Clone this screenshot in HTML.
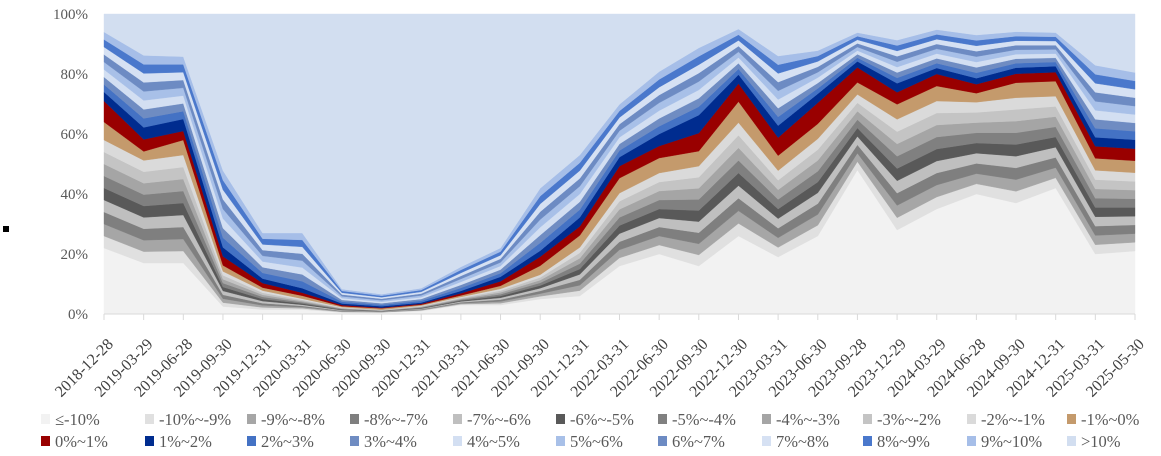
<!DOCTYPE html>
<html><head><meta charset="utf-8"><style>
html,body{margin:0;padding:0;background:#fff;}
svg{display:block;font-family:"Liberation Serif","Noto Serif CJK SC",serif;}
</style></head><body>
<svg id="chart" width="1161" height="456" xmlns="http://www.w3.org/2000/svg">
<rect x="3" y="226" width="6" height="6" fill="#000"/>
<g id="plot"></g><g id="axes"></g><g id="legend"></g>
</svg>
<script>
const categories=["2018-12-28","2019-03-29","2019-06-28","2019-09-30","2019-12-31","2020-03-31","2020-06-30","2020-09-30","2020-12-31","2021-03-31","2021-06-30","2021-09-30","2021-12-31","2022-03-31","2022-06-30","2022-09-30","2022-12-30","2023-03-31","2023-06-30","2023-09-28","2023-12-29","2024-03-29","2024-06-28","2024-09-30","2024-12-31","2025-03-31","2025-05-30"];
const seriesNames=["≤-10%","-10%~-9%","-9%~-8%","-8%~-7%","-7%~-6%","-6%~-5%","-5%~-4%","-4%~-3%","-3%~-2%","-2%~-1%","-1%~0%","0%~1%","1%~2%","2%~3%","3%~4%","4%~5%","5%~6%","6%~7%","7%~8%","8%~9%","9%~10%",">10%"];
const seriesColors=["#f2f2f2","#e0e0e0","#a6a6a6","#7f7f7f","#bfbfbf","#595959","#808080","#a5a5a5","#c4c4c4","#dadada","#c49a6c","#990000","#002c8f","#4472c4","#6f8cc2","#d3dff2","#a8c0e8","#6d8bc3","#d6e1f3","#4a78cc","#a6bee8","#d2def0"];
const sBase=[22,17,17,2.5,1.5,1.5,0.5,0.5,1,3,3,5,6,16,20,16,26,19,26,48,28,35,40,37,42,20,21];
const sGray1=[4,3.8,4,1.3,0.7,0.4,0.2,0.1,0.2,0.3,0.6,0.9,1.8,2.7,3,3.7,4.2,3.2,3.6,2.8,4.1,4,3.4,3.9,3.4,3.1,2.9];
const sGray2=[4,3.8,4,1.3,0.7,0.4,0.2,0.1,0.2,0.3,0.6,0.9,1.8,2.7,3,3.7,4.2,3.2,3.6,2.8,4.1,4,3.4,3.9,3.4,3.1,2.9];
const sGray3=[4,3.8,4,1.3,0.7,0.4,0.2,0.1,0.2,0.3,0.6,0.9,1.8,2.7,3,3.7,4.2,3.2,3.6,2.8,4.1,4,3.4,3.9,3.4,3.1,2.9];
const sGray4=[4,3.8,4,1.3,0.7,0.4,0.2,0.1,0.2,0.3,0.6,0.9,1.8,2.7,3,3.7,4.2,3.2,3.6,2.8,4.1,4,3.4,3.9,3.4,3.1,2.9];
const sGray5=[4,3.8,4,1.3,0.7,0.4,0.2,0.1,0.2,0.3,0.6,0.9,1.8,2.7,3,3.7,4.2,3.2,3.6,2.8,4.1,4,3.4,3.9,3.4,3.1,2.9];
const sGray6=[4,3.8,4,1.3,0.7,0.4,0.2,0.1,0.2,0.3,0.6,0.9,1.8,2.7,3,3.7,4.2,3.2,3.6,2.8,4.1,4,3.4,3.9,3.4,3.1,2.9];
const sGray7=[4,3.8,4,1.3,0.7,0.4,0.2,0.1,0.2,0.3,0.6,0.9,1.8,2.7,3,3.7,4.2,3.2,3.6,2.8,4.1,4,3.4,3.9,3.4,3.1,2.9];
const sGray8=[4,3.8,4,1.3,0.7,0.4,0.2,0.1,0.2,0.3,0.6,0.9,1.8,2.7,3,3.7,4.2,3.2,3.6,2.8,4.1,4,3.4,3.9,3.4,3.1,2.9];
const sGray9=[4,3.8,4,1.3,0.7,0.4,0.2,0.1,0.2,0.3,0.6,0.9,1.8,2.7,3,3.7,4.2,3.2,3.6,2.8,4.1,4,3.4,3.9,3.4,3.1,2.9];
const sTan=[6,3,5,2,1,1,0.3,0.5,0.3,0.5,1,3,4,5,5,5,7,5,5,4,5,5,3,5,5,4,4];
const sRed=[7,4,3,3,1.5,1,0.4,0.2,0.3,0.7,1.5,3,3,4,4,6,6,6,7,5,4,4,3,3,3,4,4];
const sNavy=[3,4,4,3,1.5,1.5,0.5,0.5,0.4,0.8,1.5,2,3,3,4,6,3,4,3,2,3,2,2,2,2,3,3];
const sBlue1=[2.5,3,2.6,3.2,1.9,2.3,0.6,0.5,0.6,1,1.2,2.6,2.6,2.2,2.6,2.8,1.9,2.9,1.8,1.2,1.8,1.6,1.8,1.5,1.4,3,2.8];
const sBlue2=[2.5,3,2.6,3.2,1.9,2.3,0.6,0.5,0.6,1,1.2,2.6,2.6,2.2,2.6,2.8,1.9,2.9,1.8,1.2,1.8,1.6,1.8,1.5,1.4,3,2.8];
const sBlue3=[2.5,3,2.6,3.2,1.9,2.3,0.6,0.5,0.6,1,1.2,2.6,2.6,2.2,2.6,2.8,1.9,2.9,1.8,1.2,1.8,1.6,1.8,1.5,1.4,3,2.8];
const sBlue4=[2.5,3,2.6,3.2,1.9,2.3,0.6,0.5,0.6,1,1.2,2.6,2.6,2.2,2.6,2.8,1.9,2.9,1.8,1.2,1.8,1.6,1.8,1.5,1.4,3,2.8];
const sBlue5=[2.5,3,2.6,3.2,1.9,2.3,0.6,0.5,0.6,1,1.2,2.6,2.6,2.2,2.6,2.8,1.9,2.9,1.8,1.2,1.8,1.6,1.8,1.5,1.4,3,2.8];
const sBlue6=[2.5,3,2.6,3.2,1.9,2.3,0.6,0.5,0.6,1,1.2,2.6,2.6,2.2,2.6,2.8,1.9,2.9,1.8,1.2,1.8,1.6,1.8,1.5,1.4,3,2.8];
const sBlue7=[2.5,3,2.6,3.2,1.9,2.3,0.6,0.5,0.6,1,1.2,2.6,2.6,2.2,2.6,2.8,1.9,2.9,1.8,1.2,1.8,1.6,1.8,1.5,1.4,3,2.8];
const sBlue8=[2.5,3,2.6,3.2,1.9,2.3,0.6,0.5,0.6,1,1.2,2.6,2.6,2.2,2.6,2.8,1.9,2.9,1.8,1.2,1.8,1.6,1.8,1.5,1.4,3,2.8];
const yTicks=[0,20,40,60,80,100];
const yTickLabels=["0%","20%","40%","60%","80%","100%"];

const NS="http://www.w3.org/2000/svg";
const L=104,R=1135,T=14,B=314;
function xs(i){return L+(R-L)*i/(categories.length-1);}
function ys(v){return B-(B-T)*v/100;}
function mk(tag,attrs,parent){const e=document.createElementNS(NS,tag);for(const k in attrs)e.setAttribute(k,attrs[k]);parent.appendChild(e);return e;}

const list=[sBase,sGray1,sGray2,sGray3,sGray4,sGray5,sGray6,sGray7,sGray8,sGray9,sTan,sRed,sNavy,sBlue1,sBlue2,sBlue3,sBlue4,sBlue5,sBlue6,sBlue7,sBlue8];
const plot=document.getElementById('plot');
let cum=categories.map(()=>0);
const all=list.slice();
all.push(categories.map((_,i)=>Math.max(0,100-list.reduce((s,a)=>s+a[i],0))));
all.forEach((arr,si)=>{
  const lower=cum.slice();
  const upper=cum.map((c,i)=>c+arr[i]);
  let d="M"+categories.map((_,i)=>xs(i).toFixed(1)+","+ys(upper[i]).toFixed(1)).join(" L");
  for(let i=categories.length-1;i>=0;i--)d+=" L"+xs(i).toFixed(1)+","+ys(lower[i]).toFixed(1);
  d+=" Z";
  const p=mk('path',{d:d,fill:seriesColors[si],stroke:seriesColors[si],'stroke-width':0.4},plot);
  
  
  cum=upper;
});

const axes=document.getElementById('axes');
const base=mk('line',{x1:L,x2:R,y1:B,y2:B,stroke:'#d9d9d9','stroke-width':1},axes);


yTicks.forEach((v,i)=>{
  const t=mk('text',{x:88,y:ys(v)+5,'text-anchor':'end','font-size':15,fill:'#595959'},axes);
  t.textContent=yTickLabels[i];
  
  
});
categories.forEach((c,i)=>{
  const x=xs(i);
  const tk=mk('line',{x1:x,x2:x,y1:B,y2:B+6,stroke:'#d9d9d9','stroke-width':1},axes);
  
  
  const ax=x+10, ay=B+31;
  const t=mk('text',{x:ax,y:ay,'text-anchor':'end','font-size':16,fill:'#404040',transform:'rotate(-45 '+ax+' '+ay+')'},axes);
  t.textContent=c;
  
  
});

const leg=document.getElementById('legend');
const colX=[41,145,247,350,453,556,658,762,863,967,1067];
seriesNames.forEach((n,i)=>{
  const row=i<11?0:1, col=i%11;
  const y=row===0?425:447;
  const g=mk('g',{},leg);
  
  
  mk('rect',{x:colX[col],y:y-11,width:9,height:10,fill:seriesColors[i]},g);
  const t=mk('text',{x:colX[col]+14,y:y,'font-size':16.5,fill:'#595959'},g);
  t.textContent=n;
});
</script>
</body></html>
